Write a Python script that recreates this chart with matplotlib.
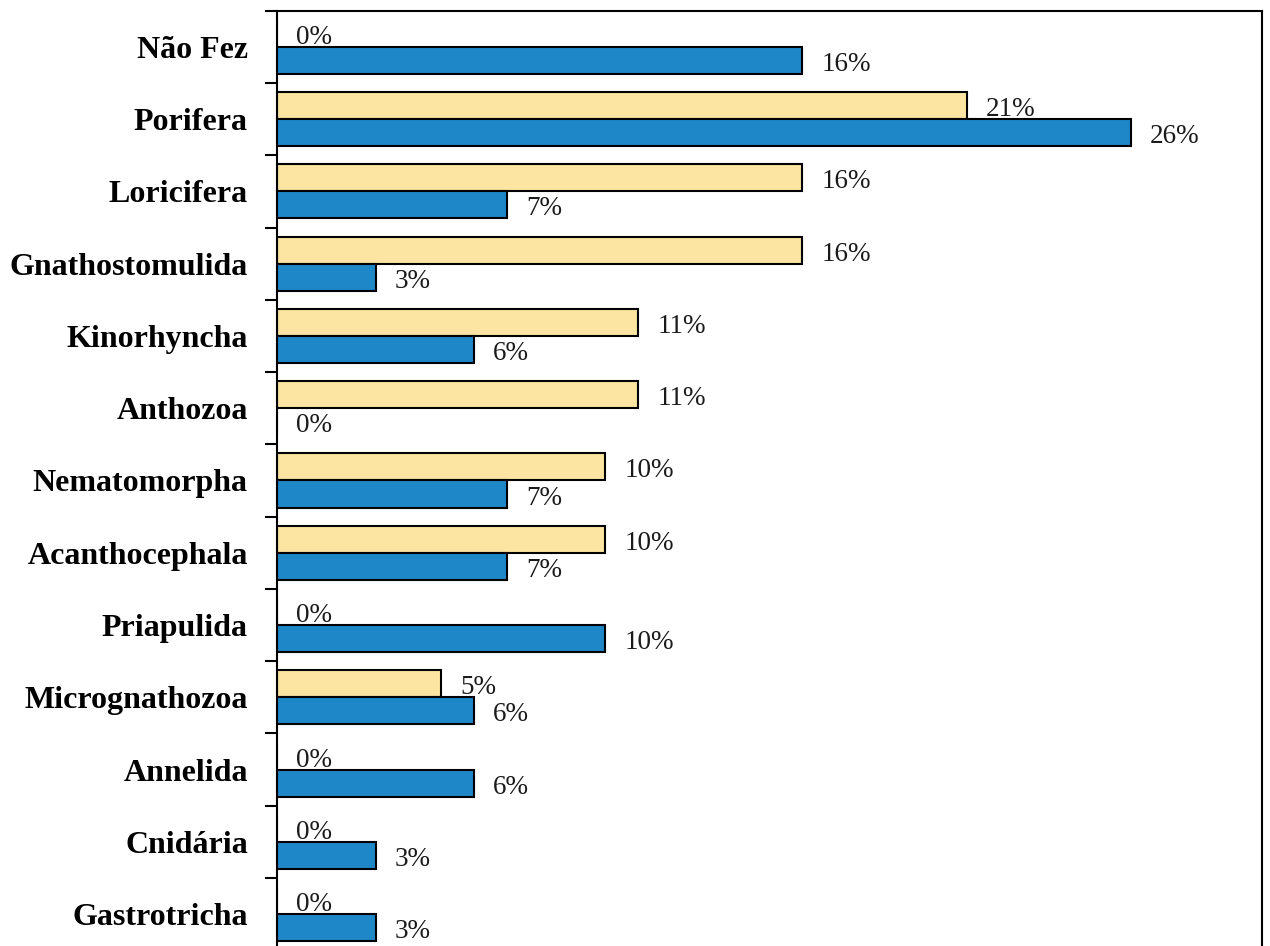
import matplotlib
matplotlib.use("Agg")
import matplotlib.pyplot as plt
import numpy as np

categories = ["Não Fez", "Porifera", "Loricifera", "Gnathostomulida", "Kinorhyncha",
              "Anthozoa", "Nematomorpha", "Acanthocephala", "Priapulida",
              "Micrognathozoa", "Annelida", "Cnidária", "Gastrotricha"]
series_yellow = [0, 21, 16, 16, 11, 11, 10, 10, 0, 5, 0, 0, 0]
series_blue = [16, 26, 7, 3, 6, 0, 7, 7, 10, 6, 6, 3, 3]

W, H = 1270, 946
fig = plt.figure(figsize=(W / 100, H / 100), dpi=100)
left, right, top, bottom = 277, 1262, 10.7, 950.3
ax = fig.add_axes([left / W, 1 - bottom / H, (right - left) / W, (bottom - top) / H])

y = np.arange(len(categories))
h = 0.375
c_yellow = "#FCE5A3"
c_blue = "#1E87C8"
ax.barh(y - h / 2, series_yellow, height=h, color=c_yellow, edgecolor="black", linewidth=1.5, zorder=2)
ax.barh(y + h / 2, series_blue, height=h, color=c_blue, edgecolor="black", linewidth=1.5, zorder=2)

serif = ["Liberation Serif", "DejaVu Serif"]
for yi, v in zip(y, series_yellow):
    ax.annotate(f"{v}%", xy=(v, yi - h / 2), xytext=(19, -4), textcoords="offset pixels",
                ha="left", va="center", fontsize=19.5, family=serif, color="#1a1a1a")
for yi, v in zip(y, series_blue):
    ax.annotate(f"{v}%", xy=(v, yi + h / 2), xytext=(19, -4), textcoords="offset pixels",
                ha="left", va="center", fontsize=19.5, family=serif, color="#1a1a1a")

ax.set_xlim(0, 30)
ax.set_ylim(len(categories) - 0.5, -0.5)
ax.set_xticks([])
ax.set_yticks(y)
ax.set_yticklabels(categories, fontsize=23, fontweight="bold", family=serif)
ax.tick_params(axis="y", which="major", length=0, pad=21)
ax.set_yticks(np.arange(-0.5, len(categories), 1.0), minor=True)
ax.tick_params(axis="y", which="minor", length=9, width=1.5, direction="out")
for s in ax.spines.values():
    s.set_linewidth(1.5)

fig.savefig("out.png", dpi=100)
